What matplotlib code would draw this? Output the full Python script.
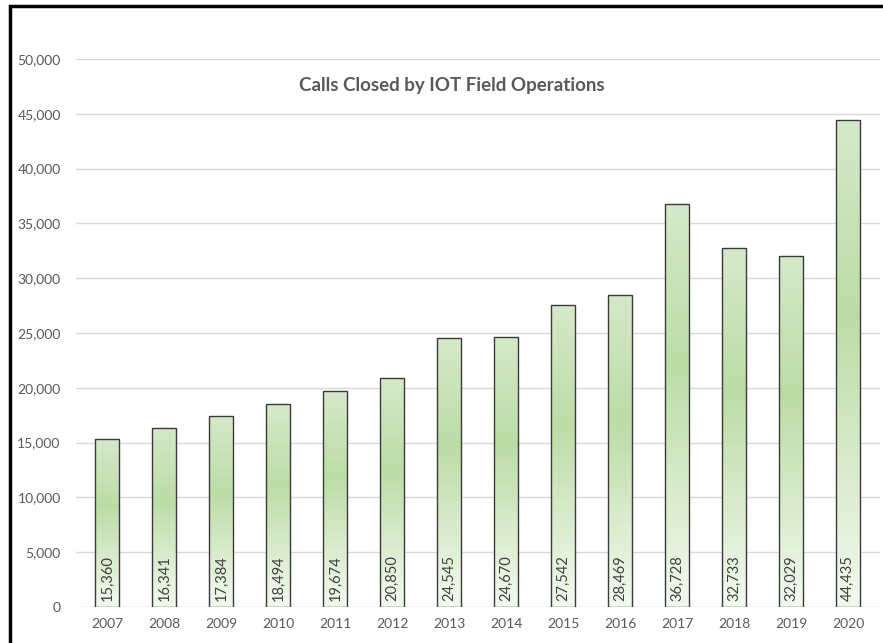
import numpy as np
import matplotlib.pyplot as plt
from matplotlib.colors import LinearSegmentedColormap
from matplotlib.patches import Rectangle

years = ['2007', '2008', '2009', '2010', '2011', '2012', '2013',
         '2014', '2015', '2016', '2017', '2018', '2019', '2020']
calls = [15360, 16341, 17384, 18494, 19674, 20850, 24545,
         24670, 27542, 28469, 36728, 32733, 32029, 44435]

plt.rcParams['font.family'] = ['Lato', 'DejaVu Sans']

fig = plt.figure(figsize=(8.83, 6.43), dpi=100)
ax = fig.add_axes([76 / 883, 36 / 643, 804 / 883, 548 / 643])

# gradient: top light, darker at ~40%, almost white at the bottom
cmap = LinearSegmentedColormap.from_list(
    'bar', [(0.0, '#d6e9ca'), (0.4, '#bcdca6'), (1.0, '#f3f9ef')])
grad = np.linspace(0, 1, 256).reshape(-1, 1)

x = np.arange(len(years))
width = 0.42
bars = ax.bar(x, calls, width=width, color='none', edgecolor='#3a3a3a',
              linewidth=1.0, zorder=3)
for b in bars:
    x0 = b.get_x()
    h = b.get_height()
    im = ax.imshow(grad, cmap=cmap, aspect='auto', origin='upper',
                   extent=(x0, x0 + b.get_width(), 0, h), zorder=2)
    im.set_clip_path(b)

for i, v in enumerate(calls):
    ax.annotate(f'{v:,}', xy=(i, 0), xytext=(0, 4), textcoords='offset points',
                rotation=90, ha='center', va='bottom', fontsize=10.5,
                color='#404040', zorder=4)

ax.set_xlim(-0.55, 13.56)
ax.set_ylim(0, 50000)
ax.set_yticks(np.arange(0, 50001, 5000))
ax.set_yticklabels([f'{t:,}' for t in range(0, 50001, 5000)])
ax.set_xticks(x)
ax.set_xticklabels(years)
ax.tick_params(axis='both', length=0, labelsize=10, labelcolor='#595959')
ax.tick_params(axis='y', pad=11)
ax.tick_params(axis='x', pad=8)
ax.grid(axis='y', color='#d9d9d9', linewidth=1.0, zorder=0)
ax.set_axisbelow(True)
for s in ax.spines.values():
    s.set_visible(False)

ax.text(0.468, 0.951, 'Calls Closed by IOT Field Operations',
        transform=ax.transAxes, ha='center', va='center',
        fontsize=13.5, fontweight='bold', color='#595959')

# thick black frame (only left and top edges visible)
fig.patches.append(Rectangle((9.5 / 883, -0.1), 1.2, 1.1 - 6 / 643,
                             transform=fig.transFigure, fill=False,
                             edgecolor='black', linewidth=2.5))

fig.savefig('out.png', dpi=100)
